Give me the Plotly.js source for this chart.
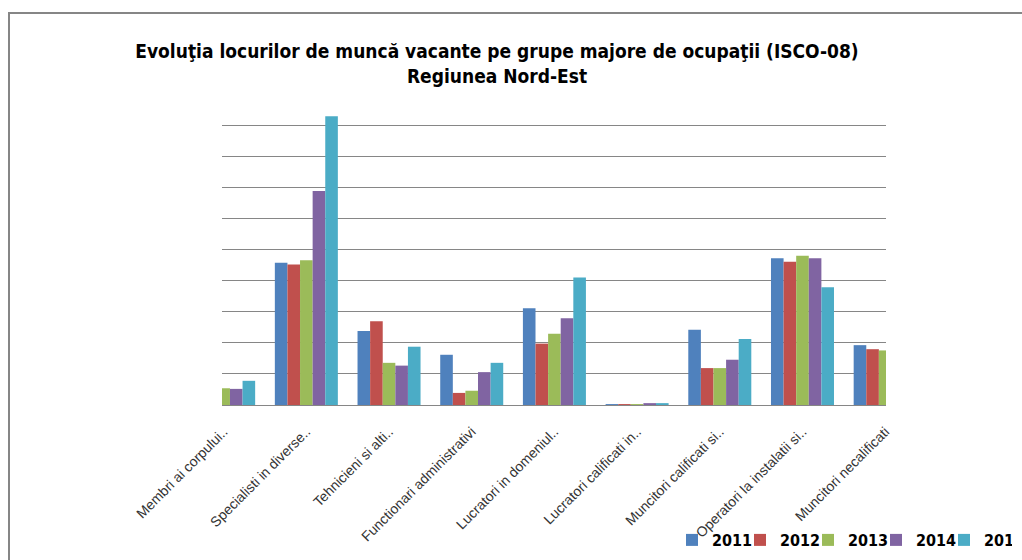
<!DOCTYPE html>
<html>
<head>
<meta charset="utf-8">
<script src="https://cdn.plot.ly/plotly-3.0.1.min.js"></script>
<style>
html, body { margin: 0; padding: 0; width: 1022px; height: 560px; overflow: hidden; background: #fff; }
#frame { position: absolute; left: 8px; top: 12px; width: 1200px; height: 700px; border: 2px solid #868686; box-sizing: border-box; }
#chart { position: absolute; left: 0; top: 0; width: 1150px; height: 560px; }
</style>
</head>
<body>
<div id="frame"></div>
<div id="chart"></div>
<script>
const categories = [
  "Membri ai corpului..",
  "Specialisti in diverse..",
  "Tehnicieni si alti..",
  "Functionari administrativi",
  "Lucratori in domeniul..",
  "Lucratori calificati in..",
  "Muncitori calificati si..",
  "Operatori la instalatii si..",
  "Muncitori necalificati"
];
const years = ["2011", "2012", "2013", "2014", "2015"];
const v2011 = [null, 459, 239, 162, 312, 3, 243, 473, 193];
const v2012 = [null, 453, 270, 39, 198, 3, 119, 462, 180];
const v2013 = [54, 467, 136, 46, 230, 3, 119, 481, 176];
const v2014 = [52, 690, 127, 106, 280, 6, 146, 473, null];
const v2015 = [78, 931, 188, 136, 411, 6, 213, 380, null];
const seriesValues = [v2011, v2012, v2013, v2014, v2015];
const colors = ["#4F81BD", "#C0504D", "#9BBB59", "#8064A2", "#4BACC6"];

const W = 1150, H = 560;
const boldNarrow = "DejaVu Sans Condensed, Liberation Sans Narrow, Arial Narrow, sans-serif";
const traces = years.map((y, i) => ({
  type: "bar",
  name: y,
  x: categories,
  y: seriesValues[i],
  marker: { color: colors[i], line: { width: 0 } },
  hoverinfo: "x+y+name"
}));

const layout = {
  width: W,
  height: H,
  paper_bgcolor: "rgba(0,0,0,0)",
  plot_bgcolor: "rgba(0,0,0,0)",
  margin: { l: 222, r: W - 886, t: 94, b: H - 405, pad: 0 },
  barmode: "group",
  bargap: 0.238,
  bargroupgap: 0,
  title: {
    text: "Evoluţia locurilor de muncă vacante pe grupe majore de ocupaţii (ISCO-08)<br>Regiunea Nord-Est",
    font: { family: boldNarrow, size: 19, color: "#000", weight: "bold" },
    xref: "container", x: 497 / W, xanchor: "center",
    yref: "container", y: 1 - 58 / H, yanchor: "top"
  },
  xaxis: {
    type: "category",
    range: [-0.02, 8.01],
    showgrid: false,
    showline: true,
    linecolor: "#868686",
    linewidth: 1,
    ticks: "",
    tickangle: -45,
    ticklabelstandoff: 12,
    tickfont: { family: "Liberation Sans, Arial, sans-serif", size: 14, color: "#333" },
    fixedrange: true
  },
  yaxis: {
    range: [0, 1003],
    dtick: 100,
    showgrid: true,
    gridcolor: "#868686",
    gridwidth: 1,
    zeroline: false,
    showticklabels: false,
    ticks: "",
    fixedrange: true
  },
  showlegend: true,
  legend: {
    orientation: "h",
    xref: "container", yref: "container",
    x: 672 / W, xanchor: "left",
    y: 1 - 540 / H, yanchor: "middle",
    font: { family: boldNarrow, size: 16, color: "#000", weight: "bold" },
    itemwidth: 30,
    entrywidth: 23,
    tracegroupgap: 0,
    bgcolor: "rgba(0,0,0,0)"
  }
};

Plotly.newPlot("chart", traces, layout, { staticPlot: true, displayModeBar: false });
</script>
</body>
</html>
